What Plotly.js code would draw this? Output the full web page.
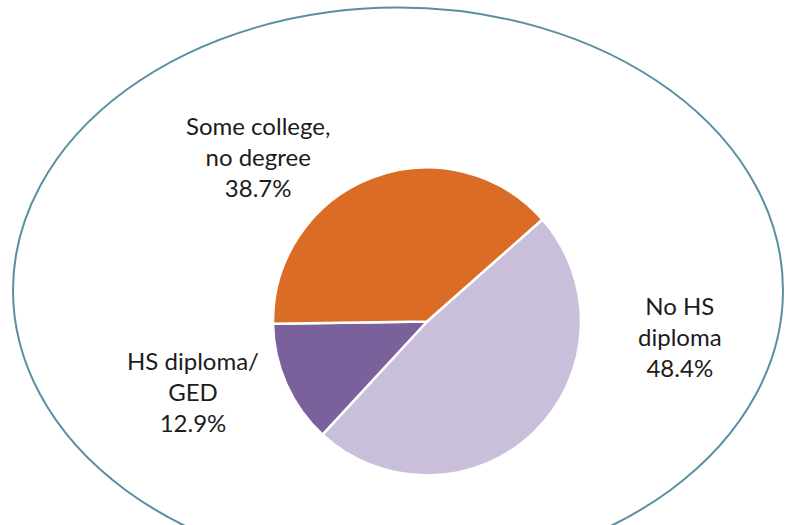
<!DOCTYPE html>
<html>
<head>
<meta charset="utf-8">
<script src="https://cdn.plot.ly/plotly-3.0.1.min.js"></script>
<style>html,body{margin:0;padding:0;background:#fff;}#chart{width:796px;height:525px;}</style>
</head>
<body>
<div id="chart"></div>
<script>
// Data
var categories = ["No HS diploma", "HS diploma/GED", "Some college, no degree"];
var labelLines = ["No HS<br>diploma", "HS diploma/<br>GED", "Some college,<br>no degree"];
var shares = [48.4, 12.9, 38.7];
var colors = ["#C9BFDA", "#7B619B", "#DA6C25"];

// label placement (layout only)
var labelPos = [
  {x: 0.8543, y: 0.359},
  {x: 0.2425, y: 0.2552},
  {x: 0.3241, y: 0.701}
];

var trace = {
  type: "pie",
  labels: categories,
  values: shares,
  sort: false,
  direction: "clockwise",
  rotation: 48.5,
  textinfo: "none",
  hoverinfo: "label+percent",
  marker: {colors: colors, line: {color: "#ffffff", width: 2.5}},
  domain: {x: [0.343, 0.7299], y: [0.0943, 0.681]},
  showlegend: false
};

var annotations = categories.map(function (c, i) {
  return {
    xref: "paper", yref: "paper",
    x: labelPos[i].x, y: labelPos[i].y,
    xanchor: "center", yanchor: "middle",
    text: labelLines[i] + "<br>" + shares[i].toFixed(1) + "%",
    showarrow: false,
    align: "center",
    font: {family: "Lato, 'Noto Sans', sans-serif", size: 24, color: "#1c1c1c"}
  };
});

var layout = {
  width: 796, height: 525,
  margin: {l: 0, r: 0, t: 0, b: 0},
  paper_bgcolor: "#ffffff",
  plot_bgcolor: "#ffffff",
  showlegend: false,
  annotations: annotations,
  shapes: [{
    type: "circle", xref: "paper", yref: "paper",
    x0: 13 / 796, x1: 783 / 796,
    y0: (525 - 573) / 525, y1: (525 - 7.5) / 525,
    line: {color: "#5A8FA3", width: 2},
    fillcolor: "rgba(0,0,0,0)",
    layer: "below"
  }]
};

Plotly.newPlot("chart", [trace], layout, {displayModeBar: false, staticPlot: true});
</script>
</body>
</html>
